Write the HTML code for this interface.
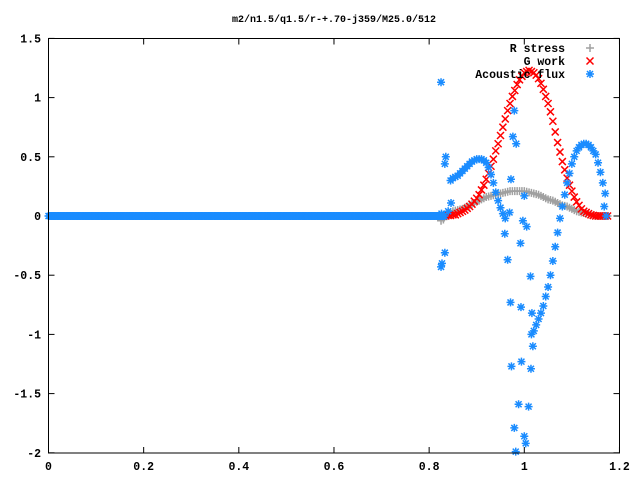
<!DOCTYPE html>
<html><head><meta charset="utf-8">
<style>
html,body{margin:0;padding:0;background:#fff;}
svg{display:block;}
text{font-family:"Liberation Mono",monospace;font-size:11.5px;font-weight:bold;fill:#000;}
</style></head>
<body>
<svg id="chart" width="640" height="480" viewBox="0 0 640 480" xmlns="http://www.w3.org/2000/svg">
<rect x="0" y="0" width="640" height="480" fill="#fff"/>
<text x="334" y="22" text-anchor="middle" style="font-size:10px">m2/n1.5/q1.5/r-+.70-j359/M25.0/512</text>
<g id="axes"></g>
<g id="series-r"></g>
<g id="series-g"></g>
<g id="series-a"></g>
<rect x="48.5" y="38.5" width="571" height="414.5" fill="none" stroke="#000" stroke-width="1"/>
<g id="legend">
  <text x="565" y="52" text-anchor="end">R stress</text>
  <text x="565" y="65" text-anchor="end">G work</text>
  <text x="565" y="78" text-anchor="end">Acoustic flux</text>
</g>
</svg>
<script>
const xTicks = [0, 0.2, 0.4, 0.6, 0.8, 1, 1.2];
const xTickLabels = ["0", "0.2", "0.4", "0.6", "0.8", "1", "1.2"];
const yTicks = [1.5, 1, 0.5, 0, -0.5, -1, -1.5, -2];
const yTickLabels = ["1.5", "1", "0.5", "0", "-0.5", "-1", "-1.5", "-2"];

const gX = [0.825,0.83,0.835,0.84,0.845,0.85,0.855,0.86,0.865,0.87,0.875,0.88,0.885,0.89,0.895,0.9,0.905,0.91,0.915,0.92,0.925,0.93,0.935,0.94,0.945,0.95,0.955,0.96,0.965,0.97,0.975,0.98,0.985,0.99,0.995,1.0,1.005,1.01,1.015,1.02,1.025,1.03,1.035,1.04,1.045,1.05,1.055,1.06,1.065,1.07,1.075,1.08,1.085,1.09,1.095,1.1,1.105,1.11,1.115,1.12,1.125,1.13,1.135,1.14,1.145,1.15,1.155,1.16,1.165,1.17,1.175];
const gY = [0,0,0,0.005,0.005,0.01,0.01,0.02,0.03,0.04,0.05,0.065,0.08,0.10,0.125,0.15,0.18,0.22,0.26,0.31,0.36,0.42,0.48,0.55,0.61,0.68,0.75,0.82,0.89,0.95,1.01,1.06,1.11,1.15,1.18,1.21,1.22,1.23,1.22,1.21,1.19,1.16,1.12,1.07,1.01,0.95,0.88,0.80,0.71,0.62,0.54,0.46,0.39,0.32,0.26,0.21,0.16,0.12,0.09,0.06,0.04,0.03,0.02,0.01,0.005,0,0,0,0,0,0];

const rX = [0.825,0.83,0.835,0.84,0.845,0.85,0.855,0.86,0.865,0.87,0.875,0.88,0.885,0.89,0.895,0.9,0.905,0.91,0.915,0.92,0.925,0.93,0.935,0.94,0.945,0.95,0.955,0.96,0.965,0.97,0.975,0.98,0.985,0.99,0.995,1.0,1.005,1.01,1.015,1.02,1.025,1.03,1.035,1.04,1.045,1.05,1.055,1.06,1.065,1.07,1.075,1.08,1.085,1.09,1.095,1.1,1.105,1.11,1.115,1.12,1.125,1.13,1.135,1.14,1.145,1.15,1.155,1.16,1.165,1.17,1.175];
const rY = [-0.04,-0.03,0,0.02,0.03,0.04,0.045,0.05,0.055,0.06,0.07,0.08,0.09,0.10,0.11,0.12,0.13,0.14,0.15,0.16,0.165,0.17,0.175,0.18,0.185,0.19,0.195,0.20,0.205,0.21,0.21,0.21,0.21,0.21,0.21,0.21,0.205,0.20,0.195,0.19,0.185,0.18,0.17,0.16,0.15,0.14,0.135,0.13,0.12,0.11,0.10,0.09,0.085,0.08,0.07,0.06,0.05,0.04,0.035,0.03,0.025,0.02,0.015,0.01,0.005,0,0,0,0,0,0];

const aX = [0.845,0.85,0.855,0.86,0.865,0.87,0.875,0.88,0.885,0.89,0.895,0.9,0.905,0.91,0.915,0.92,0.925,0.93,0.935,0.94,0.945,0.95,0.955,0.96,
1.015,1.02,1.025,1.03,1.035,1.04,1.045,1.05,1.055,1.06,1.065,1.07,1.075,1.08,1.085,1.09,1.095,1.1,1.105,1.11,1.115,1.12,1.125,1.13,1.135,1.14,1.145,1.15,1.155,1.16,1.165,1.17,
0.825,0.835,0.833,0.832,0.826,0.84,0.833,0.827,0.825,0.846,0.979,0.976,0.983,0.972,1.0,0.969,0.959,0.997,1.005,0.992,0.965,1.013,0.971,0.993,1.016,1.018,0.973,0.994,1.014,0.988,1.009,0.979,1.0,1.003,0.982,1.168,1.172];
const aY = [0.30,0.32,0.33,0.34,0.36,0.38,0.40,0.42,0.44,0.46,0.47,0.48,0.48,0.48,0.47,0.45,0.41,0.35,0.28,0.20,0.13,0.07,0.02,-0.02,
-1.0,-0.97,-0.92,-0.87,-0.82,-0.76,-0.68,-0.60,-0.50,-0.38,-0.26,-0.14,-0.02,0.08,0.18,0.28,0.36,0.44,0.50,0.55,0.58,0.60,0.61,0.61,0.60,0.58,0.55,0.52,0.45,0.37,0.28,0.19,
1.13,0.50,0.44,0,0.02,0.04,-0.31,-0.40,-0.43,0.11,0.89,0.67,0.61,0.31,0.17,0.03,-0.15,-0.04,-0.09,-0.23,-0.37,-0.51,-0.73,-0.77,-0.82,-1.10,-1.27,-1.23,-1.29,-1.59,-1.61,-1.79,-1.86,-1.92,-1.99,0.08,0];

// flat zero region (all series are zero for x < 0.83)
const zeroStart = 0, zeroEnd = 0.83, zeroValue = 0;

const X0 = 48.5, XS = 475.8, Y0 = 216, YS = 118.4;
const sx = v => X0 + v * XS;
const sy = v => Y0 - v * YS;
const NS = "http://www.w3.org/2000/svg";
function mk(tag, attrs, parent) {
  const e = document.createElementNS(NS, tag);
  for (const k in attrs) e.setAttribute(k, attrs[k]);
  parent.appendChild(e);
  return e;
}
const axes = document.getElementById('axes');
xTicks.forEach((t, i) => {
  const x = sx(t);
  const tb = mk('line', {x1: x, y1: 453, x2: x, y2: 447, stroke: '#000'}, axes);
  
  
  const tt = mk('line', {x1: x, y1: 38.5, x2: x, y2: 44.5, stroke: '#000'}, axes);
  
  
  const lb = mk('text', {x: x, y: 470, 'text-anchor': 'middle'}, axes);
  lb.textContent = xTickLabels[i];
  
  
});
yTicks.forEach((t, i) => {
  const y = sy(t);
  const tl = mk('line', {x1: 48.5, y1: y, x2: 54.5, y2: y, stroke: '#000'}, axes);
  
  
  const tr = mk('line', {x1: 619.5, y1: y, x2: 613.5, y2: y, stroke: '#000'}, axes);
  
  
  const lb = mk('text', {x: 41, y: y + 4, 'text-anchor': 'end'}, axes);
  lb.textContent = yTickLabels[i];
  
  
});

function plus(g, x, y, c) {
  return mk('path', {d: `M${x-4},${y}h8M${x},${y-4}v8`, stroke: c, 'stroke-width': 1.5, fill: 'none'}, g);
}
function cross(g, x, y, c) {
  return mk('path', {d: `M${x-3.5},${y-3.5}l7,7M${x-3.5},${y+3.5}l7,-7`, stroke: c, 'stroke-width': 1.5, fill: 'none'}, g);
}
function star(g, x, y, c) {
  return mk('path', {d: `M${x-4},${y}h8M${x},${y-4}v8M${x-3},${y-3}l6,6M${x-3},${y+3}l6,-6`, stroke: c, 'stroke-width': 1.5, fill: 'none'}, g);
}
const GREY = '#a0a0a0', RED = '#ff0000', BLUE = '#1a8cff';
const gr = document.getElementById('series-r');
const gg = document.getElementById('series-g');
const ga = document.getElementById('series-a');

for (let v = zeroStart; v <= zeroEnd; v += 0.0025) {
  const m = star(ga, sx(v), sy(zeroValue), BLUE);
  
  
}
rX.forEach((v, i) => {
  const m = plus(gr, sx(v), sy(rY[i]), GREY);
  
  
});
gX.forEach((v, i) => {
  const m = cross(gg, sx(v), sy(gY[i]), RED);
  
  
});
aX.forEach((v, i) => {
  const m = star(ga, sx(v), sy(aY[i]), BLUE);
  
  
});

const lg = document.getElementById('legend');
const l1 = plus(lg, 590, 48, GREY);


const l2 = cross(lg, 590, 61, RED);


const l3 = star(lg, 590, 74, BLUE);


</script>
</body></html>
